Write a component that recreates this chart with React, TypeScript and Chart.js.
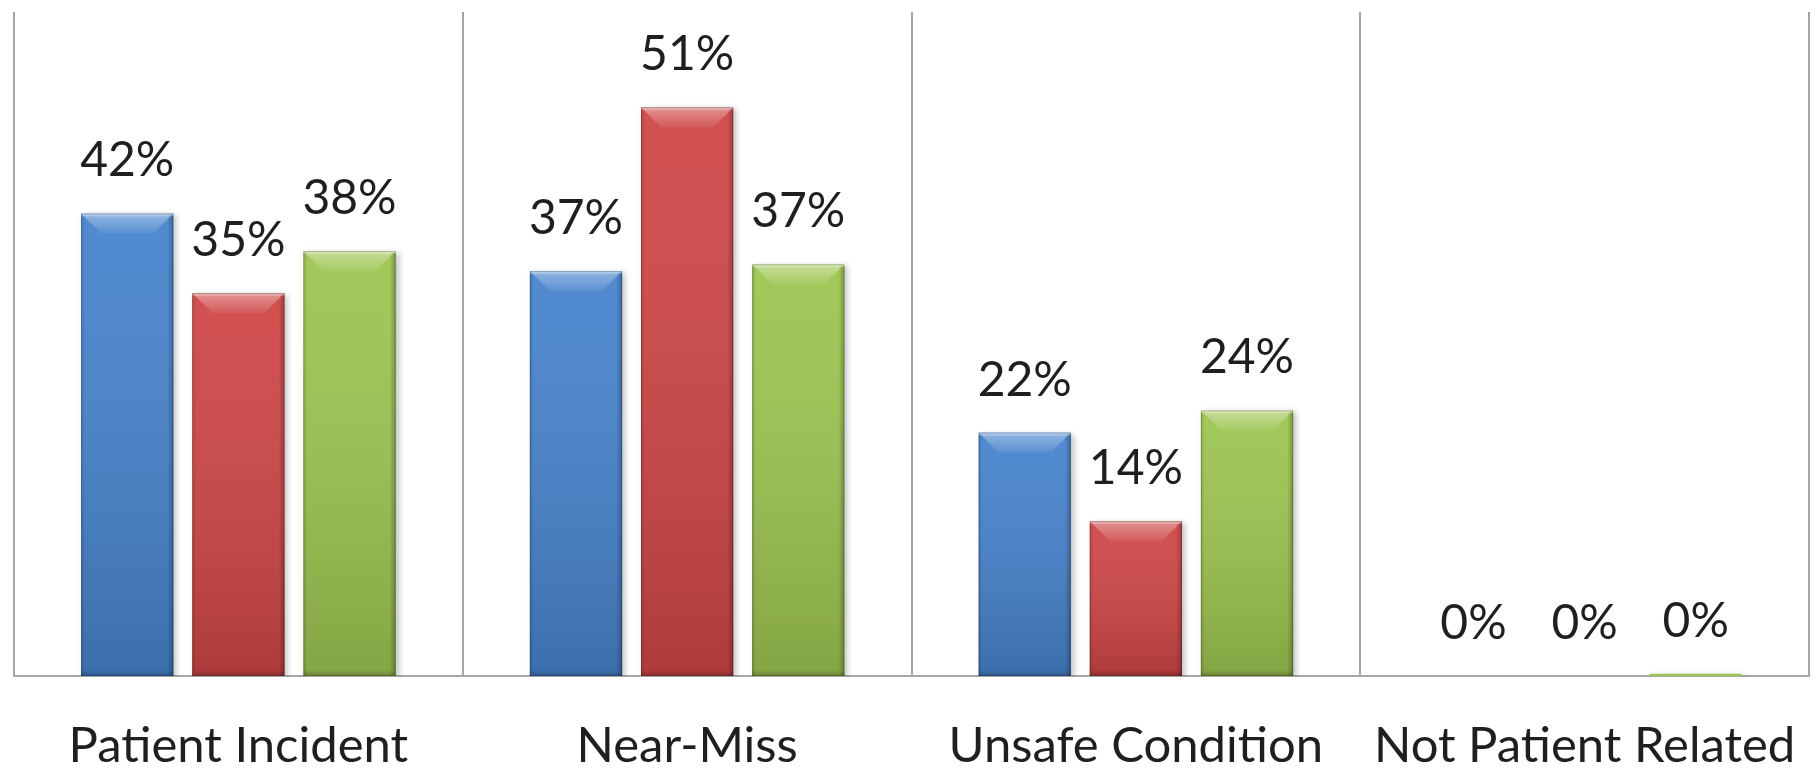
import React, { useEffect, useRef } from "react";
import { Chart, registerables } from "chart.js";

Chart.register(...registerables);

const categories = ["Patient Incident", "Near-Miss", "Unsafe Condition", "Not Patient Related"];
const seriesBlue = [41.8, 36.6, 22, 0];
const seriesRed = [34.6, 51.4, 14, 0];
const seriesGreen = [38.4, 37.2, 24, 0.2];
const seriesNames = ["Series 1", "Series 2", "Series 3"];
const seriesColors = ["#4683cc", "#cf4646", "#9dc450"];
const yMax = 60;

const FONT = "Lato, 'Open Sans', sans-serif";

const bevelPlugin = {
  id: "bevel",
  beforeDatasetsDraw(chart: any) {
    const ctx = chart.ctx;
    ctx.save();
    ctx.shadowColor = "rgba(0,0,0,0.25)";
    ctx.shadowBlur = 6;
    ctx.shadowOffsetX = 3;
    ctx.shadowOffsetY = 2;
  },
  afterDatasetsDraw(chart: any) {
    const ctx = chart.ctx;
    ctx.restore();
    chart.data.datasets.forEach((ds: any, di: number) => {
      const meta = chart.getDatasetMeta(di);
      meta.data.forEach((bar: any) => {
        const p = bar.getProps(["x", "y", "base", "width"], true);
        const l = p.x - p.width / 2;
        const r = p.x + p.width / 2;
        const t = p.y;
        const b = p.base;
        const h = b - t;
        if (h < 4) return;
        const bv = Math.min(20, h / 2);
        const sw = 4;
        ctx.save();
        // vertical shading
        const g = ctx.createLinearGradient(0, t, 0, b);
        g.addColorStop(0, "rgba(255,255,255,0.06)");
        g.addColorStop(1, "rgba(0,0,0,0.16)");
        ctx.fillStyle = g;
        ctx.fillRect(l, t, r - l, h);
        // top bevel (light trapezoid)
        const gt = ctx.createLinearGradient(0, t, 0, t + bv);
        gt.addColorStop(0, "rgba(255,255,255,0.38)");
        gt.addColorStop(1, "rgba(255,255,255,0.06)");
        ctx.fillStyle = gt;
        ctx.beginPath();
        ctx.moveTo(l, t);
        ctx.lineTo(r, t);
        ctx.lineTo(r - bv, t + bv);
        ctx.lineTo(l + bv, t + bv);
        ctx.closePath();
        ctx.fill();
        // thin top highlight
        ctx.fillStyle = "rgba(255,255,255,0.25)";
        ctx.fillRect(l, t, r - l, 3);
        // left edge
        const gl = ctx.createLinearGradient(l, 0, l + sw, 0);
        gl.addColorStop(0, "rgba(0,0,0,0.12)");
        gl.addColorStop(1, "rgba(0,0,0,0)");
        ctx.fillStyle = gl;
        ctx.fillRect(l, t + 2, sw, h - 2);
        // right edge
        const gr = ctx.createLinearGradient(r - sw - 2, 0, r, 0);
        gr.addColorStop(0, "rgba(0,0,0,0)");
        gr.addColorStop(1, "rgba(0,0,0,0.25)");
        ctx.fillStyle = gr;
        ctx.fillRect(r - sw - 2, t + 2, sw + 2, h - 2);
        // bottom edge
        const gb = ctx.createLinearGradient(0, b - sw - 2, 0, b);
        gb.addColorStop(0, "rgba(0,0,0,0)");
        gb.addColorStop(1, "rgba(0,0,0,0.2)");
        ctx.fillStyle = gb;
        ctx.fillRect(l, b - sw - 2, r - l, sw + 2);
        // outline
        ctx.strokeStyle = "rgba(0,0,0,0.2)";
        ctx.lineWidth = 1;
        ctx.strokeRect(l + 0.5, t + 0.5, r - l - 1, h - 1);
        ctx.restore();
      });
    });
  },
};

const labelPlugin = {
  id: "valueLabels",
  afterDatasetsDraw(chart: any) {
    const ctx = chart.ctx;
    ctx.save();
    ctx.font = `48px ${FONT}`;
    ctx.fillStyle = "#1f1f1f";
    ctx.textAlign = "center";
    ctx.textBaseline = "alphabetic";
    chart.data.datasets.forEach((ds: any, di: number) => {
      const meta = chart.getDatasetMeta(di);
      meta.data.forEach((bar: any, i: number) => {
        const v = ds.data[i];
        const p = bar.getProps(["x", "y"], true);
        ctx.fillText(`${Math.round(v)}%`, p.x, p.y - 37);
      });
    });
    ctx.restore();
  },
};

export default function App() {
  const ref = useRef<HTMLCanvasElement | null>(null);
  useEffect(() => {
    document.body.style.margin = "0";
    const canvas = ref.current;
    if (!canvas) return;
    const data = [seriesBlue, seriesRed, seriesGreen];
    const chart = new Chart(canvas, {
      type: "bar",
      data: {
        labels: categories,
        datasets: data.map((d, i) => ({
          label: seriesNames[i],
          data: d,
          backgroundColor: seriesColors[i],
          borderWidth: 0,
          categoryPercentage: 0.743,
          barPercentage: 0.83,
        })),
      },
      options: {
        responsive: false,
        devicePixelRatio: 1,
        animation: false,
        layout: { padding: { left: 14, right: 9, top: 12, bottom: -49 } },
        plugins: { legend: { display: false }, tooltip: { enabled: false } },
        scales: {
          x: {
            grid: { offset: true, color: "#a6a6a6", lineWidth: 2, drawTicks: false },
            border: { color: "#a6a6a6", width: 2 },
            ticks: {
              padding: 46,
              color: "#1f1f1f",
              font: { family: FONT, size: 49, lineHeight: 1 },
              maxRotation: 0,
            },
            afterFit: (scale: any) => {
              scale.paddingLeft = 0;
              scale.paddingRight = 0;
            },
          },
          y: {
            display: false,
            min: 0,
            max: yMax,
            grid: { display: false },
          },
        },
      },
      plugins: [bevelPlugin, labelPlugin],
    });
    return () => chart.destroy();
  }, []);
  return (
    <div style={{ width: 1818, height: 768 }}>
      <canvas ref={ref} width={1818} height={768} />
    </div>
  );
}
